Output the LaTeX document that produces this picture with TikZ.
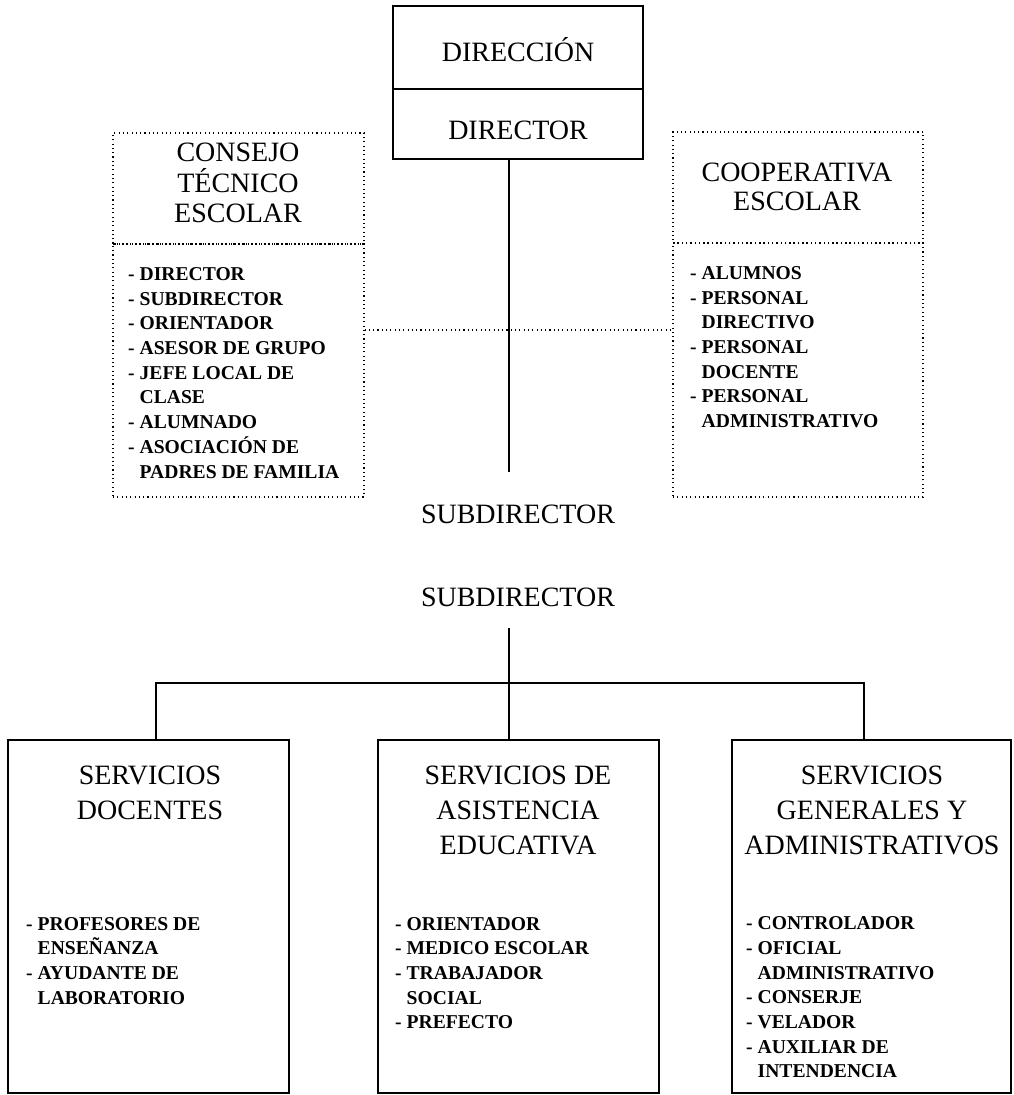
\documentclass[tikz,border=0pt]{standalone}
\usepackage{fontspec}
\setmainfont{Liberation Serif}
\newcommand{\lind}{\hspace*{11.5pt}}
\begin{document}
\begin{tikzpicture}[x=1pt,y=-1pt,
  box/.style={draw, line width=2pt, rectangle, inner sep=0pt},
  dbox/.style={draw, line width=1.1pt, dash pattern=on 1.1pt off 3.2pt, rectangle, inner sep=0pt},
  dotline/.style={line width=1.1pt, dash pattern=on 1.1pt off 3.2pt},
  conn/.style={line width=2pt},
  title/.style={font=\fontsize{28}{30.5}\selectfont, align=center, inner sep=0pt},
  btitle/.style={font=\fontsize{28}{35}\selectfont, align=center, inner sep=0pt},
  lst/.style={font=\fontsize{19.6}{24.7}\selectfont\bfseries, align=left, inner sep=0pt, anchor=north west}]
\fill[white] (0,0) rectangle (1013,1095);
\useasboundingbox (0,0) rectangle (1013,1095);

% top box
\node[box, minimum width=250pt, minimum height=83pt] (direccion) at (518,47.5) {};
\node[box, minimum width=250pt, minimum height=70pt] (director) at (518,124) {};
\node[title] (tdireccion) at (518,50) {DIRECCIÓN};
\node[title] (tdirector) at (518,130) {DIRECTOR};

% left dotted box
\node[dbox, minimum width=251pt, minimum height=111pt] (consejoH) at (238.5,188.5) {};
\node[dbox, minimum width=251pt, minimum height=253pt] (consejoB) at (238.5,370.5) {};
\node[title] (tconsejo) at (238,183) {CONSEJO\\TÉCNICO\\ESCOLAR};
\node[lst] (lconsejo) at (128,267.3) {- DIRECTOR\\- SUBDIRECTOR\\- ORIENTADOR\\- ASESOR DE GRUPO\\- JEFE LOCAL DE\\\lind CLASE\\- ALUMNADO\\- ASOCIACIÓN DE\\\lind PADRES DE FAMILIA};

% right dotted box
\node[dbox, minimum width=250pt, minimum height=111pt] (coopH) at (798,187.5) {};
\node[dbox, minimum width=250pt, minimum height=254pt] (coopB) at (798,370) {};
\node[title, font=\fontsize{28}{29}\selectfont] (tcoop) at (797,186.5) {COOPERATIVA\\ESCOLAR};
\node[lst] (lcoop) at (690,266.3) {- ALUMNOS\\- PERSONAL\\\lind DIRECTIVO\\- PERSONAL\\\lind DOCENTE\\- PERSONAL\\\lind ADMINISTRATIVO};

% dotted link
\coordinate (dl) at (0,330);
\draw[dotline] (consejoB.east |- dl) -- (coopB.west |- dl);

% main vertical
\coordinate (v1end) at (509,472);
\draw[conn] (director.south -| v1end) -- (v1end);

\node[title] (sub1) at (518,514) {SUBDIRECTOR};
\node[title] (sub2) at (518,597) {SUBDIRECTOR};

% bottom boxes
\node[box, minimum width=281pt, minimum height=353pt] (docentes) at (148.5,916.5) {};
\node[box, minimum width=281pt, minimum height=353pt] (asistencia) at (518.5,916.5) {};
\node[box, minimum width=279pt, minimum height=353pt] (generales) at (871.5,916.5) {};

\node[btitle] (tdoc) at (150,792.5) {SERVICIOS\\DOCENTES};
\node[btitle] (tasis) at (518,810) {SERVICIOS DE\\ASISTENCIA\\EDUCATIVA};
\node[btitle] (tgen) at (872,810) {SERVICIOS\\GENERALES Y\\ADMINISTRATIVOS};

\node[lst] (ldoc) at (26,917) {- PROFESORES DE\\\lind ENSEÑANZA\\- AYUDANTE DE\\\lind LABORATORIO};
\node[lst] (lasis) at (395,917) {- ORIENTADOR\\- MEDICO ESCOLAR\\- TRABAJADOR\\\lind SOCIAL\\- PREFECTO};
\node[lst] (lgen) at (746,916.5) {- CONTROLADOR\\- OFICIAL\\\lind ADMINISTRATIVO\\- CONSERJE\\- VELADOR\\- AUXILIAR DE\\\lind INTENDENCIA};

% lower connectors
\coordinate (v2top) at (509,628);
\coordinate (bl) at (156,683);
\coordinate (br) at (864,683);
\draw[conn] (v2top) -- (asistencia.north -| v2top);
\draw[conn] (docentes.north -| bl) -- (bl) -- (br) -- (generales.north -| br);
\end{tikzpicture}
\end{document}
